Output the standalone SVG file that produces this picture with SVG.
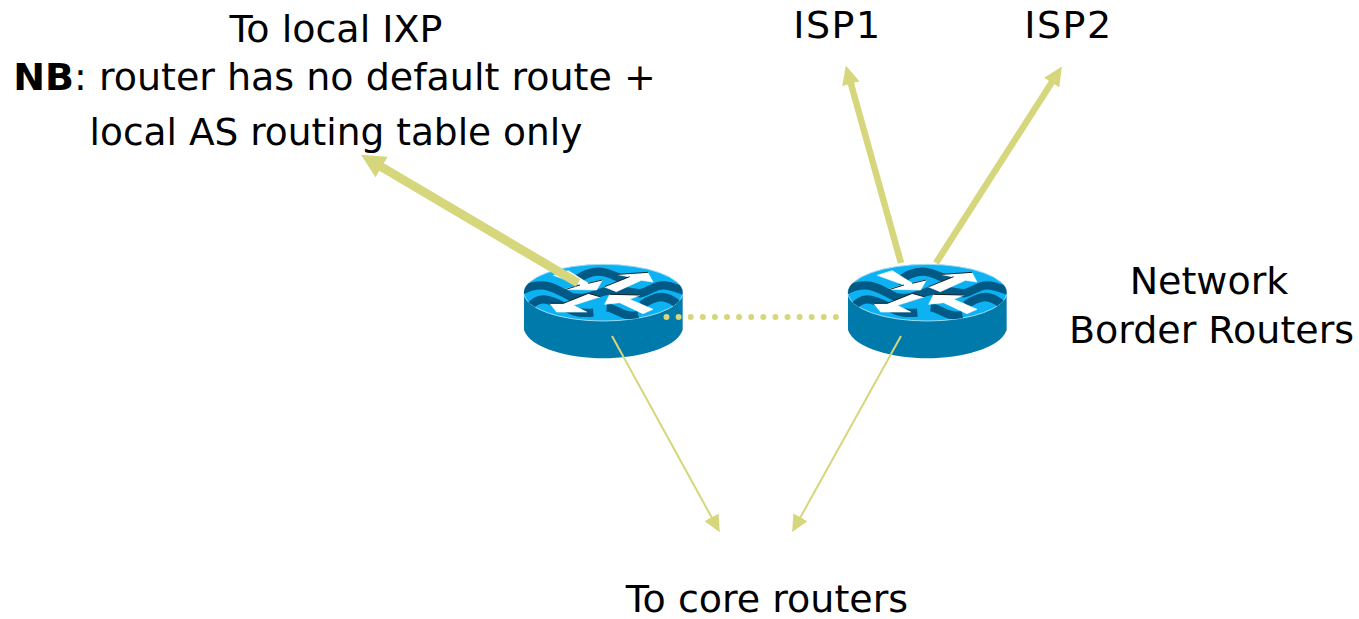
<svg xmlns="http://www.w3.org/2000/svg" width="1359" height="619" viewBox="0 0 1359 619">
<style>
text{font-family:"DejaVu Sans",Verdana,sans-serif;font-size:38px;fill:#000;text-anchor:middle}
.c{stroke:#d6d67c;fill:none}
.w{fill:none;stroke:#005a85;stroke-width:25}
.a{fill:#fff;stroke:#fff;stroke-width:2}
.s{fill:none;stroke:#000;stroke-width:2.500}
</style>
<defs>
<marker id="h1" markerUnits="userSpaceOnUse" markerWidth="24" markerHeight="24" refX="6" refY="12" orient="auto"><path d="M0,0 L24,12 L0,24 Z" fill="#d6d67c"/></marker>
<marker id="h2" markerUnits="userSpaceOnUse" markerWidth="19" markerHeight="18" refX="6" refY="9" orient="auto"><path d="M0,0 L19,9 L0,18 Z" fill="#d6d67c"/></marker>
<marker id="h3" markerUnits="userSpaceOnUse" markerWidth="17" markerHeight="16" refX="6" refY="8" orient="auto"><path d="M0,0 L17,8 L0,16 Z" fill="#d6d67c"/></marker>
<clipPath id="top"><ellipse cx="280" cy="128" rx="238" ry="85"/></clipPath>
<g id="icon" transform="scale(.3333)">
<path d="M42,128 V240 C60,295 180,325 280,325 C380,325 500,295 518,240 V128 Z" fill="#0079ab"/>
<ellipse cx="280" cy="128" rx="238" ry="85" fill="#0db2f2" stroke="#9fdcf5" stroke-width="3"/>
<g clip-path="url(#top)">
<path class="w" d="M190,95 C220,75 240,65 265,65 C300,65 320,85 350,90"/>
<path class="w" d="M30,125 C50,112 70,106 95,106 C125,106 150,125 185,141 C220,150 250,135 280,125 C320,115 350,125 390,130 C420,125 430,106 460,106 C480,106 500,115 530,125"/>
<path class="w" d="M50,180 C65,160 80,148 100,148 C130,148 160,170 185,181 C205,190 225,190 250,188"/>
<path class="w" d="M290,172 C320,175 340,205 385,195"/>
<path class="w" d="M395,165 C420,148 440,141 455,141 C475,141 495,155 520,175"/>
</g>
<path class="a" d="M130,76 L175,62 L235,100 L277,90 L260,120 L165,118 L210,105 Z"/>
<path class="a" d="M284,111 L359,81 L324,74 L414,68 L429,96 L394,91 L319,125 Z"/>
<path class="a" d="M120,161 L140,186 L230,186 L190,166 L270,141 L235,131 L160,161 Z"/>
<path class="a" d="M284,163 L299,134 L389,136 L359,148 L429,178 L399,191 L329,158 Z"/>
<path class="s" d="M165,119 L210,105 M235,100 L277,90 M284,110 L359,80 M324,73 L414,67 M120,160 L160,160 L235,130 L270,140 M299,133 L389,135"/>
</g>
</defs>
<g id="router-left"><use href="#icon" transform="translate(510 250)"/></g>
<g id="router-right"><use href="#icon" transform="translate(834 250)"/></g>
<g id="connectors">
<path class="c" stroke-width="9" d="M578,283 L376.500,164" marker-end="url(#h1)"/>
<path class="c" stroke-width="6.500" d="M901,263 L849.300,78" marker-end="url(#h2)"/>
<path class="c" stroke-width="6.500" d="M936,263 L1054.900,77.500" marker-end="url(#h2)"/>
<path class="c" stroke-width="6" stroke-linecap="round" stroke-dasharray="0 12.100" d="M666.500,317 H838"/>
<path class="c" stroke-width="2" d="M612,336 L714.500,522.500" marker-end="url(#h3)"/>
<path class="c" stroke-width="2" d="M901,336 L797.500,522.500" marker-end="url(#h3)"/>
</g>
<g id="labels">
<text x="336" y="41.500">To local IXP</text>
<text x="334.500" y="90"><tspan font-weight="bold">NB</tspan>: router has no default route +</text>
<text x="336" y="145" style="font-size:37.500px">local AS routing table only</text>
<text x="837.500" y="38" letter-spacing="1.500">ISP1</text>
<text x="1068.500" y="38" letter-spacing="1.500">ISP2</text>
<text x="1209" y="294">Network</text>
<text x="1211.500" y="343">Border Routers</text>
<text x="767" y="611.500">To core routers</text>
</g>
</svg>
